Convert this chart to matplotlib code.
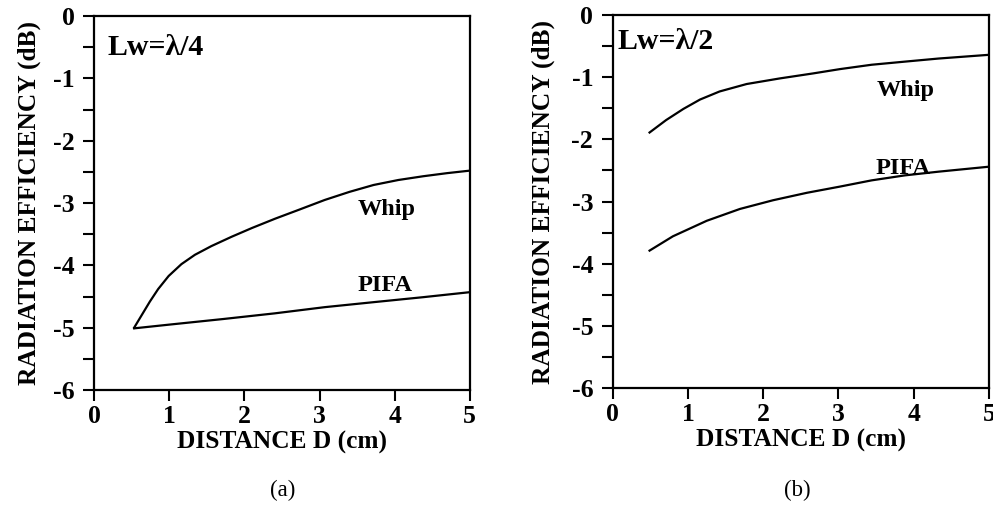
import numpy as np
import matplotlib
matplotlib.use('Agg')
import matplotlib.pyplot as plt
from matplotlib.ticker import MultipleLocator

plt.rcParams['font.family'] = ['Liberation Serif', 'DejaVu Serif']
plt.rcParams['axes.unicode_minus'] = False

# (a) Lw = lambda/4
xa_whip = [0.53, 0.63, 0.74, 0.85, 0.99, 1.16, 1.34, 1.56, 1.83, 2.10, 2.41, 2.72,
           3.07, 3.40, 3.72, 4.05, 4.38, 4.70, 5.0]
ya_whip = [-5.0, -4.80, -4.58, -4.38, -4.17, -3.98, -3.83, -3.69, -3.54, -3.40, -3.25, -3.11,
           -2.95, -2.82, -2.71, -2.63, -2.57, -2.52, -2.48]
xa_pifa = [0.53, 1.0, 1.72, 2.40, 3.07, 3.72, 4.38, 5.0]
ya_pifa = [-5.01, -4.95, -4.86, -4.77, -4.67, -4.59, -4.51, -4.43]

# (b) Lw = lambda/2
xb_whip = [0.49, 0.71, 0.94, 1.16, 1.42, 1.78, 2.22, 2.66, 3.02, 3.44, 3.88, 4.33, 5.0]
yb_whip = [-1.89, -1.69, -1.51, -1.36, -1.23, -1.11, -1.02, -0.94, -0.87, -0.80, -0.75, -0.70, -0.64]
xb_pifa = [0.49, 0.80, 1.25, 1.69, 2.13, 2.58, 3.02, 3.44, 3.88, 4.33, 5.0]
yb_pifa = [-3.79, -3.56, -3.31, -3.12, -2.98, -2.86, -2.76, -2.66, -2.58, -2.52, -2.44]

xticks = [0, 1, 2, 3, 4, 5]
yticks = [-6, -5, -4, -3, -2, -1, 0]

fig = plt.figure(figsize=(9.93, 5.18), dpi=100)
ax1 = fig.add_axes([0.095, 0.247, 0.378, 0.722])
ax2 = fig.add_axes([0.617, 0.251, 0.379, 0.720])

panels = [
    (ax1, xa_whip, ya_whip, xa_pifa, ya_pifa, 'Lw=λ/4', (0.17, -0.51), (3.9, -3.11), (3.87, -4.32), '(a)', 0.285, 9),
    (ax2, xb_whip, yb_whip, xb_pifa, yb_pifa, 'Lw=λ/2', (0.06, -0.43), (3.89, -1.21), (3.86, -2.47), '(b)', 0.803, 12),
]

for ax, xw, yw, xp, yp, tag, tagpos, wpos, ppos, sub, subx, ypad in panels:
    ax.plot(xw, yw, color='black', linewidth=1.6)
    ax.plot(xp, yp, color='black', linewidth=1.6)
    ax.set_xlim(0, 5)
    ax.set_ylim(-6, 0)
    ax.set_xticks(xticks)
    ax.set_yticks(yticks)
    ax.yaxis.set_minor_locator(MultipleLocator(0.5))
    ax.tick_params(which='both', direction='out', length=8, width=1.5,
                   labelsize=18.5, pad=6)
    ax.tick_params(axis='x', pad=3)
    for lab in ax.get_xticklabels() + ax.get_yticklabels():
        lab.set_fontweight('bold')
    for sp in ax.spines.values():
        sp.set_linewidth(1.6)
    ax.set_xlabel('DISTANCE D (cm)', fontsize=18.3, fontweight='bold', labelpad=2)
    ax.set_ylabel('RADIATION EFFICIENCY (dB)', fontsize=18.3, fontweight='bold', labelpad=ypad)
    ax.text(tagpos[0], tagpos[1], tag, fontsize=21.5, fontweight='bold', va='center', ha='left')
    ax.text(wpos[0], wpos[1], 'Whip', fontsize=17.5, fontweight='bold', va='center', ha='center')
    ax.text(ppos[0], ppos[1], 'PIFA', fontsize=17.5, fontweight='bold', va='center', ha='center')
    fig.text(subx, 1 - 490 / 518, sub, fontsize=16.5, ha='center', va='center')

fig.savefig('out.png', dpi=100)
